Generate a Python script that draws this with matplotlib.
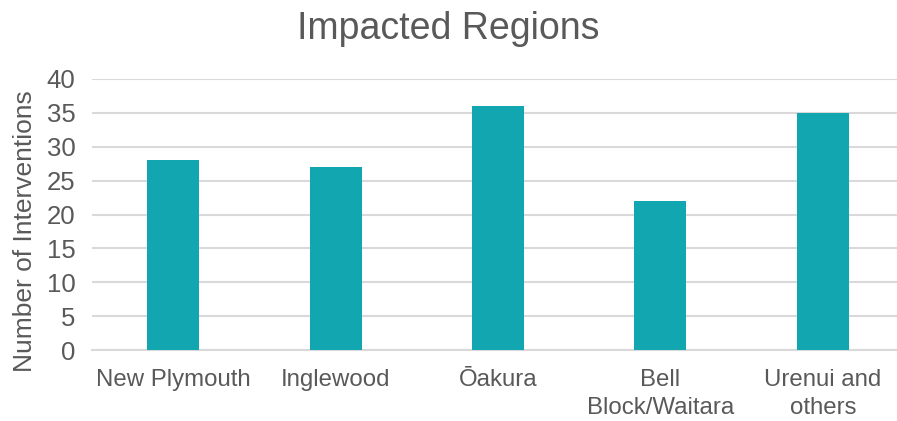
import matplotlib
matplotlib.use("Agg")
import matplotlib.pyplot as plt
import numpy as np

regions = ["New Plymouth", "Inglewood", "Ōakura", "Bell\nBlock/Waitara", "Urenui and\nothers"]
interventions = [28, 27, 36, 22, 35]
yticks = [0, 5, 10, 15, 20, 25, 30, 35, 40]

plt.rcParams['font.family'] = ['Liberation Sans', 'DejaVu Sans']
grey = "#595959"

fig = plt.figure(figsize=(8.97, 4.21), dpi=100)
ax = fig.add_axes([92 / 897, 1 - 350 / 421, 812 / 897, 271 / 421])

x = np.arange(len(regions))
ax.bar(x, interventions, width=0.32, color="#12A7B0", zorder=3)

ax.set_xlim(-0.5, len(regions) - 0.5)
ax.set_ylim(0, 40)
ax.set_yticks(yticks)
ax.set_xticks(x)
ax.set_xticklabels(regions, fontsize=17.3, color=grey, linespacing=1.3)
ax.tick_params(axis='y', labelsize=18.5, colors=grey, length=0, pad=12)
ax.tick_params(axis='x', length=0, pad=14)
ax.grid(axis='y', color="#D9D9D9", linewidth=1.5, zorder=0)
for s in ["top", "right", "left"]:
    ax.spines[s].set_visible(False)
ax.spines["bottom"].set_color("#D9D9D9")
ax.spines["bottom"].set_linewidth(1.5)

ax.set_ylabel("Number of Interventions", fontsize=19, color=grey)
ax.yaxis.set_label_coords(-0.068, 0.44)
fig.suptitle("Impacted Regions", fontsize=27, color=grey, y=0.975)

fig.savefig("out.png", dpi=100)
